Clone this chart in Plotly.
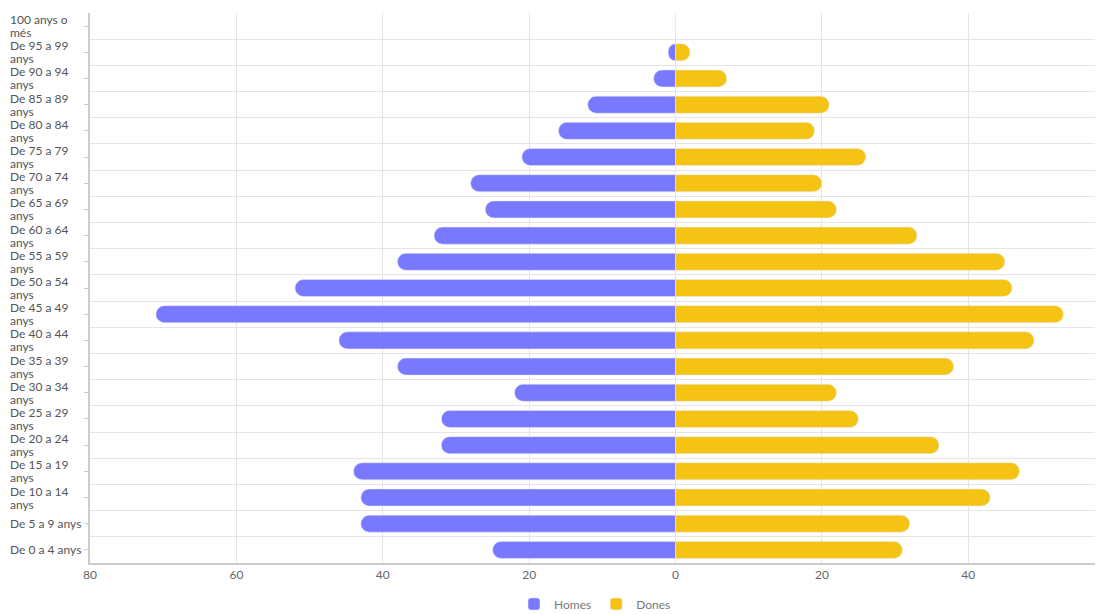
import plotly.graph_objects as go

# age groups, top to bottom as shown
grups = [
    "100 anys o|més", "De 95 a 99|anys", "De 90 a 94|anys", "De 85 a 89|anys",
    "De 80 a 84|anys", "De 75 a 79|anys", "De 70 a 74|anys", "De 65 a 69|anys",
    "De 60 a 64|anys", "De 55 a 59|anys", "De 50 a 54|anys", "De 45 a 49|anys",
    "De 40 a 44|anys", "De 35 a 39|anys", "De 30 a 34|anys", "De 25 a 29|anys",
    "De 20 a 24|anys", "De 15 a 19|anys", "De 10 a 14|anys", "De 5 a 9 anys",
    "De 0 a 4 anys",
]
homes = [0, 1, 3, 12, 16, 21, 28, 26, 33, 38, 52, 71, 46, 38, 22, 32, 32, 44, 43, 43, 25]
dones = [0, 2, 7, 21, 19, 26, 20, 22, 33, 45, 46, 53, 49, 38, 22, 25, 36, 47, 43, 32, 31]

x_ticks = [-80, -60, -40, -20, 0, 20, 40]
x_labels = [str(abs(v)) for v in x_ticks]

n = len(grups)
pos = list(range(n - 1, -1, -1))

fig = go.Figure()
fig.add_trace(go.Bar(y=pos, x=[-v for v in homes], orientation="h", name="Homes",
                     marker=dict(color="#7879FF", cornerradius=9)))
fig.add_trace(go.Bar(y=pos, x=dones, orientation="h", name="Dones",
                     marker=dict(color="#F4C314", cornerradius=9)))

# left-aligned category labels, wrapped lines drawn one by one
label_font = dict(family="Lato", size=12, color="#555")
for p, g in zip(pos, grups):
    lines = g.split("|")
    shifts = [6.5, -6.5] if len(lines) == 2 else [0]
    for line, s in zip(lines, shifts):
        fig.add_annotation(x=0, xref="paper", y=p, yref="y", text=line, showarrow=False,
                           xanchor="left", yanchor="middle", xshift=-82, yshift=s,
                           font=label_font)

# page body has an 8px margin, so the figure is 8px smaller than the window
fig.update_layout(
    width=1095, height=606,
    margin=dict(l=82, r=3, t=5, b=51, autoexpand=False),
    barmode="relative", bargap=0.35,
    plot_bgcolor="white", paper_bgcolor="white",
    font=dict(family="Lato", size=12, color="#666"),
    legend=dict(orientation="h", x=0.5, xanchor="center", y=-0.048, yanchor="top",
                font=dict(size=12, color="#777"), itemwidth=30),
    xaxis=dict(range=[-80, 58], tickvals=x_ticks, ticktext=x_labels, automargin=False,
               showgrid=True, gridcolor="#e4e4e4", zeroline=False,
               showline=True, linecolor="#ccc", linewidth=1.5, ticks="", ticklen=0),
    yaxis=dict(range=[-0.5, n - 0.5], tickvals=pos, showticklabels=False, automargin=False,
               ticks="outside", ticklen=4, tickcolor="#ccc",
               showgrid=False, zeroline=False, showline=True, linecolor="#ccc", linewidth=1.5,
               minor=dict(tickvals=[p + 0.5 for p in range(n)], showgrid=True,
                          gridcolor="#e4e4e4", ticks="")),
)

fig.write_html("out.html")
